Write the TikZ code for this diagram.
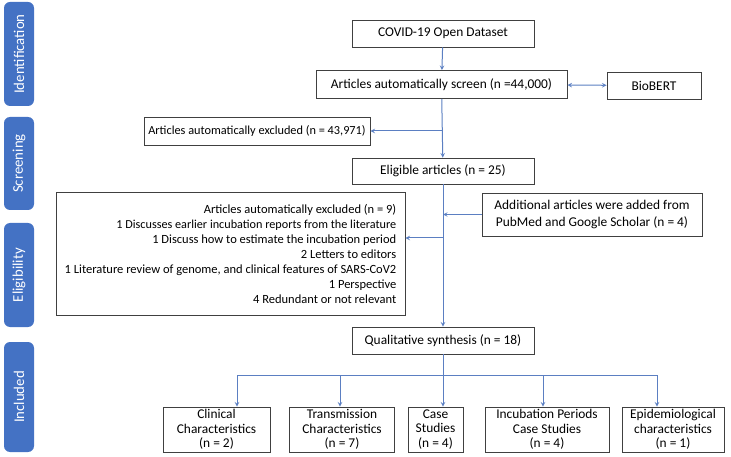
\documentclass[tikz,border=0pt]{standalone}
\usepackage{fontspec}
\setmainfont{Carlito}
\usetikzlibrary{positioning}

\definecolor{phaseblue}{HTML}{4472C4}
\definecolor{linkblue}{HTML}{5B7FC2}
\definecolor{boxgray}{HTML}{404040}

\newcommand{\smalllines}{\fontsize{12.2}{15}\selectfont}

\begin{document}
\begin{tikzpicture}[x=1pt,y=-1pt,>=stealth,
    box/.style={draw=boxgray,line width=0.9pt,fill=white,inner sep=1pt,
      font=\fontsize{13.4}{14.5}\selectfont,align=center},
    phase/.style={fill=phaseblue,rounded corners=6pt,rotate=90,minimum height=30pt,
      text=white,font=\fontsize{14.8}{16}\selectfont},
    link/.style={draw=linkblue,line width=1pt}]
  \useasboundingbox (0,0) rectangle (731,457);

  % phases on the left
  \node[phase,minimum width=104pt] (ident) at (19,54) {Identification};
  \node[phase,minimum width=93pt] (screening) at (19,163.5) {Screening};
  \node[phase,minimum width=104pt] (elig) at (19,275) {Eligibility};
  \node[phase,minimum width=110pt] (incl) at (19,397) {Included};

  % main column
  \node[box,minimum width=182pt,minimum height=27pt] (dataset) at (443,33.5) {COVID-19 Open Dataset};
  \node[box,minimum width=251pt,minimum height=28pt] (screen) at (441.5,84.5) {Articles automatically screen (n =44,000)};
  \node[box,minimum width=94pt,minimum height=27pt] (biobert) at (654,85.5) {BioBERT};
  \node[box,minimum width=226pt,minimum height=28pt,font=\fontsize{12.3}{14}\selectfont] (excl1) at (257,131)
    {Articles automatically excluded (n = 43,971)};
  \node[box,minimum width=182pt,minimum height=26pt] (eligible) at (443,171) {Eligible articles (n = 25)};
  \node[box,minimum width=220pt,minimum height=43pt,font=\fontsize{13.4}{16.5}\selectfont] (added) at (592,214.5)
    {Additional articles were added from\\PubMed and Google Scholar (n = 4)};
  \node[box,minimum width=349pt,minimum height=123pt,align=right,inner xsep=0pt,
    font=\fontsize{12.5}{15}\selectfont] (excl2) at (230.5,253.5)
    {Articles automatically excluded (n = 9)\\ \smalllines
     1 Discusses earlier incubation reports from the literature\\
     1 Discuss how to estimate the incubation period\\
     2 Letters to editors\\
     1 Literature review of genome, and clinical features of SARS-CoV2\\
     1 Perspective\\
     4 Redundant or not relevant};
  \node[box,minimum width=182pt,minimum height=27pt] (synth) at (443,340.5) {Qualitative synthesis (n = 18)};

  % included studies
  \node[box,minimum width=107pt,minimum height=45pt] (clin) at (216.5,429.5) {Clinical\\Characteristics\\(n = 2)};
  \node[box,minimum width=105pt,minimum height=45pt] (trans) at (342,429.5) {Transmission\\Characteristics\\(n = 7)};
  \node[box,minimum width=55pt,minimum height=45pt] (cases) at (435.5,429.5) {Case\\Studies\\(n = 4)};
  \node[box,minimum width=124pt,minimum height=45pt] (incub) at (547,429.5) {Incubation Periods\\Case Studies\\(n = 4)};
  \node[box,minimum width=102pt,minimum height=45pt] (epid) at (673,429.5) {Epidemiological\\characteristics\\(n = 1)};

  % junctions
  \coordinate (j1) at (443,131);
  \coordinate (j2) at (443,238);
  \coordinate (b1) at (237,375);
  \coordinate (b2) at (340,375);
  \coordinate (b3) at (443,375);
  \coordinate (b4) at (543,375);
  \coordinate (b5) at (657,375);

  \draw[link,->] (dataset) -- (screen);
  \draw[link,<->] (screen) -- (biobert);
  \draw[link,->] (screen) -- (eligible);
  \draw[link,->] (j1) -- (excl1);
  \draw[link,->] (eligible) -- (synth);
  \draw[link,->] (added.west) -- (added.west -| eligible.south);
  \draw[link,->] (j2) -- (j2 -| excl2.east);
  \draw[link] (synth) -- (b3);
  \draw[link] (b1) -- (b5);
  \draw[link,->] (b1) -- (b1 |- clin.north);
  \draw[link,->] (b2) -- (b2 |- trans.north);
  \draw[link,->] (b3) -- (b3 |- cases.north);
  \draw[link,->] (b4) -- (b4 |- incub.north);
  \draw[link,->] (b5) -- (b5 |- epid.north);
\end{tikzpicture}
\end{document}
